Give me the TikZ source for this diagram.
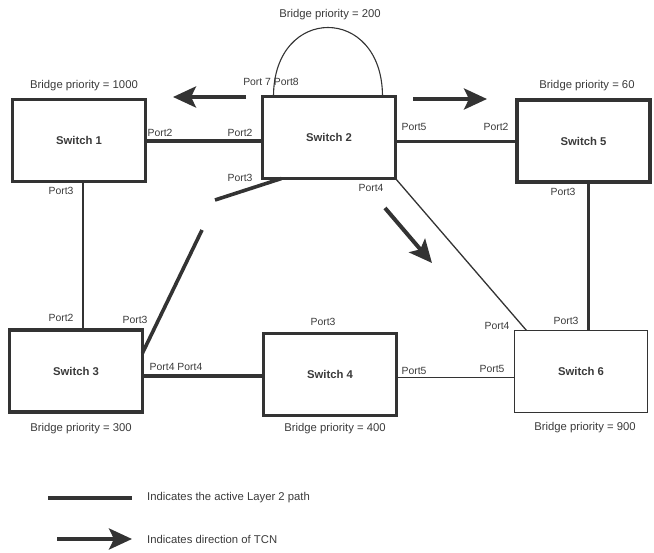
\documentclass[tikz,border=0pt]{standalone}
\usepackage{fontspec}
\setmainfont{Liberation Sans}
\usetikzlibrary{arrows.meta,calc}
\definecolor{ink}{HTML}{333333}
\definecolor{txt}{HTML}{3A3A3A}
\begin{document}
\begin{tikzpicture}[x=1pt,y=-1pt,
  sw/.style={draw=ink,line width=3.2pt,rectangle,minimum width=133pt,minimum height=82pt,inner sep=0pt,outer sep=0pt,font=\fontsize{11.3}{13}\selectfont\bfseries,text=txt},
  swthin/.style={sw,line width=1.5pt},
  lbl/.style={font=\fontsize{11.3}{13}\selectfont,text=txt,inner sep=0pt},
  port/.style={font=\fontsize{10.4}{12}\selectfont,text=txt,inner sep=0pt},
  active/.style={draw=ink,line width=3.6pt},
  passive/.style={draw=ink,line width=1.3pt},
  tcn/.style={draw=ink,line width=4pt,-{Stealth[length=23pt,width=21pt,inset=5pt]}}
]
\useasboundingbox (0,0) rectangle (654,553);

% switches
\node[sw] (s1) at (79,140.5) {Switch 1};
\node[sw] (s2) at (329,137.5) {Switch 2};
\node[sw] (s5) at (583.5,141) {Switch 5};
\node[sw] (s3) at (76,371) {Switch 3};
\node[sw] (s4) at (330,374.5) {Switch 4};
\node[swthin] (s6) at (581,371.5) {Switch 6};

% bridge priorities
\node[lbl] (p2) at (330,15) {Bridge priority = 200};
\node[lbl] (p1) at (84,86) {Bridge priority = 1000};
\node[lbl] (p5) at (587,86) {Bridge priority = 60};
\node[lbl] (p3) at (81,429) {Bridge priority = 300};
\node[lbl] (p4) at (335,429) {Bridge priority = 400};
\node[lbl] (p6) at (585,428) {Bridge priority = 900};

% ports
\node[port] (l78) at (271,82) {Port 7 Port8};
\node[port] (l12) at (160,133) {Port2};
\node[port] (l22) at (240,133) {Port2};
\node[port] (l23) at (240,178) {Port3};
\node[port] (l13) at (61,191) {Port3};
\node[port] (l25) at (414,127) {Port5};
\node[port] (l52) at (496,127) {Port2};
\node[port] (l24) at (371,188) {Port4};
\node[port] (l53) at (563,192) {Port3};
\node[port] (l32) at (61,318) {Port2};
\node[port] (l33) at (135,320) {Port3};
\node[port] (l34) at (176,367) {Port4 Port4};
\node[port] (l43) at (323,322) {Port3};
\node[port] (l45) at (414,371) {Port5};
\node[port] (l65) at (492,369) {Port5};
\node[port] (l64) at (497,326) {Port4};
\node[port] (l63) at (566,321) {Port3};

% links
\draw[active] ([yshift=-0.5pt]s1.east) -- ([yshift=-0.5pt]s1.east -| s2.west);
\draw[active] ([yshift=-4pt]s2.east) -- ([yshift=-4pt]s2.east -| s5.west);
\draw[passive] ([xshift=4pt]s1.south) -- ([xshift=4pt]s1.south |- s3.north);
\draw[active] ([xshift=5pt]s5.south) -- ([xshift=5pt]s5.south |- s6.north);
\draw[active] ([yshift=-5pt]s3.east) -- ([yshift=-5pt]s3.east -| s4.west);
\draw[passive] ([yshift=-3pt]s4.east) -- ([yshift=-3pt]s4.east -| s6.west);
\draw[passive] (s2.south east) -- ([xshift=12pt]s6.north west);

\coordinate (b1) at (215,200);
\coordinate (b2) at (202,230);
\draw[active] ([xshift=19pt]s2.south west) -- (b1);
\draw[active] (b2) -- ([yshift=18pt]s3.east);

% self loop
\coordinate (la) at ([xshift=11pt]s2.north west);
\coordinate (lb) at ([xshift=-13pt]s2.north east);
\draw[passive,line width=1.1pt] (la) .. controls ($(la)+(0,-92)$) and ($(lb)+(0,-92)$) .. (lb);

% TCN arrows
\coordinate (a1s) at (246,97); \coordinate (a1e) at (173,97);
\coordinate (a2s) at (413,99); \coordinate (a2e) at (487,99);
\coordinate (a3s) at (385,208); \coordinate (a3e) at (432,263);
\draw[tcn] (a1s) -- (a1e);
\draw[tcn] (a2s) -- (a2e);
\draw[tcn] (a3s) -- (a3e);

% legend
\coordinate (g1s) at (48,498); \coordinate (g1e) at (132,498);
\coordinate (g2s) at (57,539); \coordinate (g2e) at (132,539);
\draw[active] (g1s) -- (g1e);
\draw[tcn] (g2s) -- (g2e);
\node[lbl,anchor=west] (t1) at (147,498) {Indicates the active Layer 2 path};
\node[lbl,anchor=west] (t2) at (147,539) {Indicates direction of TCN};
\end{tikzpicture}
\end{document}
